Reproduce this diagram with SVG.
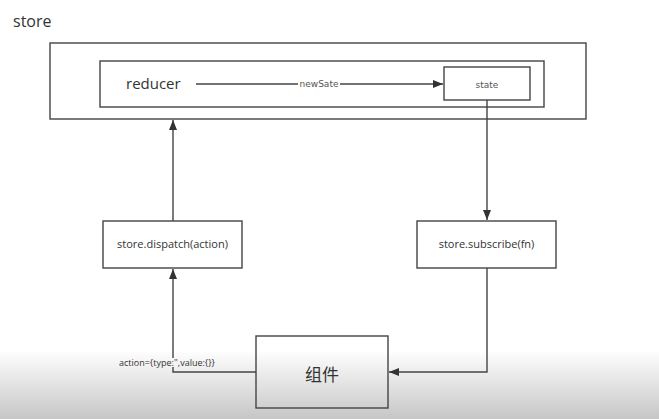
<svg xmlns="http://www.w3.org/2000/svg" width="659" height="419" viewBox="0 0 659 419">
<style>
.box{fill:none;stroke:#444;stroke-width:1.4}
.wbox{fill:#fff;stroke:#444;stroke-width:1.4}
.ln{fill:none;stroke:#444;stroke-width:1.4}
.t{font-family:"Open Sans","Noto Sans CJK SC",sans-serif;fill:#333}
.m{font-family:"DejaVu Sans",sans-serif;fill:#555;font-size:9px}
</style>
<defs>
<linearGradient id="bg" x1="0" y1="0" x2="0" y2="1">
<stop offset="0" stop-color="#fff"/>
<stop offset="1" stop-color="#c6c6c6"/>
</linearGradient>
<marker id="ah" viewBox="0 0 10 10" refX="10" refY="5" markerWidth="10" markerHeight="10" markerUnits="userSpaceOnUse" orient="auto">
<path d="M0,1 L10,5 L0,9 Z" fill="#333"/>
</marker>
</defs>
<rect x="0" y="0" width="659" height="419" fill="#fff"/>
<rect x="0" y="350" width="659" height="69" fill="url(#bg)"/>
<text class="t" x="13" y="27" font-size="16">store</text>
<g id="store">
<rect class="box" x="50" y="43" width="536" height="76"/>
</g>
<g id="inner">
<rect class="box" x="100" y="61" width="444" height="46"/>
</g>
<g id="reducer">
<text class="t" x="126" y="89" font-size="15">reducer</text>
</g>
<g id="state">
<rect class="wbox" x="444" y="67" width="86" height="33"/>
<text class="m" x="487" y="88" text-anchor="middle">state</text>
</g>
<g id="dispatch">
<rect class="wbox" x="103" y="221" width="139" height="47"/>
<text class="t" x="172.5" y="248" font-size="11" text-anchor="middle">store.dispatch(action)</text>
</g>
<g id="subscribe">
<rect class="wbox" x="417" y="221" width="139" height="47"/>
<text class="t" x="486.5" y="248" font-size="11" text-anchor="middle">store.subscribe(fn)</text>
</g>
<g id="component">
<rect class="box" x="256" y="336" width="132" height="72"/>
<text class="t" x="322" y="381" font-size="17" text-anchor="middle">组件</text>
</g>
<g id="connectors">
<line class="ln" x1="196" y1="84" x2="298" y2="84"/>
<line class="ln" x1="340" y1="84" x2="443" y2="84" marker-end="url(#ah)"/>
<text class="m" x="319" y="87" text-anchor="middle">newSate</text>
<line class="ln" x1="487" y1="100" x2="487" y2="220" marker-end="url(#ah)"/>
<polyline class="ln" points="487,268 487,372 389,372" marker-end="url(#ah)"/>
<polyline class="ln" points="256,372 173,372 173,367"/>
<line class="ln" x1="173" y1="358" x2="173" y2="269" marker-end="url(#ah)"/>
<line class="ln" x1="173" y1="221" x2="173" y2="120" marker-end="url(#ah)"/>
<text class="t" x="119" y="366" font-size="9">action={type:'',value:{}}</text>
</g>
</svg>
